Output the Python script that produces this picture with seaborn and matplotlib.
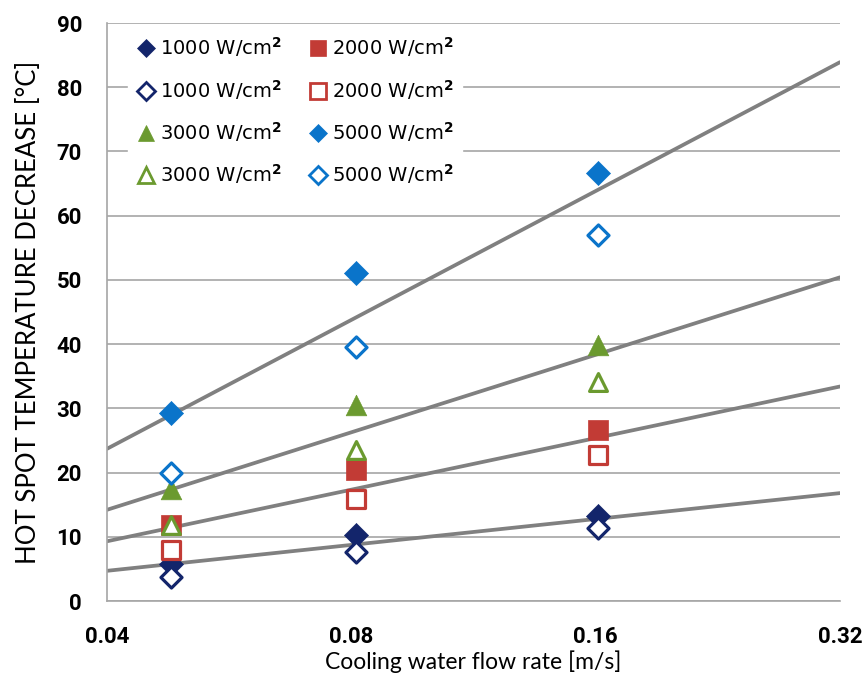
import numpy as np
import pandas as pd
import seaborn as sns
import matplotlib.pyplot as plt
from matplotlib.ticker import FixedLocator, NullLocator

# flow rates of the measurements [m/s]
flow = [0.048, 0.081, 0.161]

# hot spot temperature decrease [°C]
filled_1000 = [5.8, 10.2, 13.2]
open_1000 = [3.7, 7.6, 11.3]
filled_2000 = [11.8, 20.4, 26.6]
open_2000 = [8.0, 15.9, 22.7]
filled_3000 = [17.5, 30.5, 39.8]
open_3000 = [11.8, 23.5, 34.1]
filled_5000 = [29.3, 51.0, 66.7]
open_5000 = [19.9, 39.6, 57.0]

# trend lines, values at 0.04 and 0.32 m/s
line_x = [0.04, 0.32]
line_1000 = [4.7, 16.8]
line_2000 = [9.3, 33.4]
line_3000 = [14.2, 50.4]
line_5000 = [23.7, 83.9]

x_ticks = [0.04, 0.08, 0.16, 0.32]
x_ticklabels = ["0.04", "0.08", "0.16", "0.32"]

navy = "#13256B"
red = "#C23B35"
green = "#6B9A2F"
blue = "#0A74CA"

sns.set_style("white")
plt.rcParams["font.family"] = ["DejaVu Sans"]
plt.rcParams["text.color"] = "black"
plt.rcParams["axes.labelcolor"] = "black"

fig = plt.figure(figsize=(8.63, 6.86), dpi=100)
ax = fig.add_axes([107 / 863, 1 - 601 / 686, 733 / 863, 578 / 686])
ax.set_xscale("log", base=2)

for ly in [line_1000, line_2000, line_3000, line_5000]:
    sns.lineplot(x=line_x, y=ly, color="#808080", linewidth=2.7, ax=ax, zorder=2)

# series in Excel order
series = [
    (filled_1000, navy, "D", True, 150),
    (filled_2000, red, "s", True, 215),
    (open_1000, navy, "D", False, 115),
    (open_2000, red, "s", False, 165),
    (filled_3000, green, "^", True, 220),
    (filled_5000, blue, "D", True, 150),
    (open_3000, green, "^", False, 165),
    (open_5000, blue, "D", False, 115),
]
label = "W/cm$^\\mathbf{2}$"
names = ["1000 ", "2000 ", "1000 ", "2000 ", "3000 ", "5000 ", "3000 ", "5000 "]

handles = []
for (vals, col, mk, filled, size), nm in zip(series, names):
    df = pd.DataFrame({"flow": flow, "dT": vals})
    if filled:
        sns.scatterplot(data=df, x="flow", y="dT", marker=mk, s=size, color=col,
                        edgecolor=col, linewidth=0.5, ax=ax, zorder=3)
    else:
        sns.scatterplot(data=df, x="flow", y="dT", marker=mk, s=size, facecolor="white",
                        edgecolor=col, linewidth=2.3, ax=ax, zorder=3)
    handles.append(plt.Line2D([], [], linestyle="none", marker=mk,
                              markersize=11 if mk != "D" else 9,
                              markerfacecolor=col if filled else "white",
                              markeredgecolor=col, markeredgewidth=0.5 if filled else 2.0,
                              label=nm + label))

ax.set_xlim(0.04, 0.32)
ax.set_ylim(0, 90)
ax.xaxis.set_major_locator(FixedLocator(x_ticks))
ax.xaxis.set_minor_locator(NullLocator())
ax.set_xticklabels(x_ticklabels)
ax.set_yticks(range(0, 91, 10))
ax.yaxis.grid(True, color="#A6A6A6", linewidth=1.2)
ax.set_axisbelow(True)

for s in ["top", "right"]:
    ax.spines[s].set_visible(False)
for s in ["left", "bottom"]:
    ax.spines[s].set_color("#A6A6A6")
    ax.spines[s].set_linewidth(1.2)
ax.tick_params(axis="y", direction="out", length=5, width=1.2, color="#A6A6A6",
               labelcolor="black", pad=13)
ax.tick_params(axis="x", direction="out", length=7, width=1.2, color="#A6A6A6",
               labelcolor="black", pad=11)
for t in ax.get_xticklabels() + ax.get_yticklabels():
    t.set_family(["Roboto", "DejaVu Sans"])
    t.set_fontweight("bold")
    t.set_fontsize(16)

ax.set_xlabel("Cooling water flow rate [m/s]", fontsize=16.5,
              family=["Lato", "DejaVu Sans"], labelpad=2)
ax.set_ylabel("HOT SPOT TEMPERATURE DECREASE [°C]", fontsize=18.5,
              family=["Lato", "DejaVu Sans"], labelpad=11)

# legend shown row by row: reorder for column filling
order = [0, 2, 4, 6, 1, 3, 5, 7]
leg = ax.legend(handles=[handles[i] for i in order], ncol=2, loc="upper left",
                bbox_to_anchor=(0.016, 1.009), frameon=True, fontsize=14,
                handlelength=1.0, handletextpad=0.2, columnspacing=1.4,
                labelspacing=0.95, borderpad=0.4)
leg.get_frame().set_facecolor("white")
leg.get_frame().set_edgecolor("white")
leg.get_frame().set_alpha(1)
leg.set_zorder(5)

fig.savefig("out.png", dpi=100)
